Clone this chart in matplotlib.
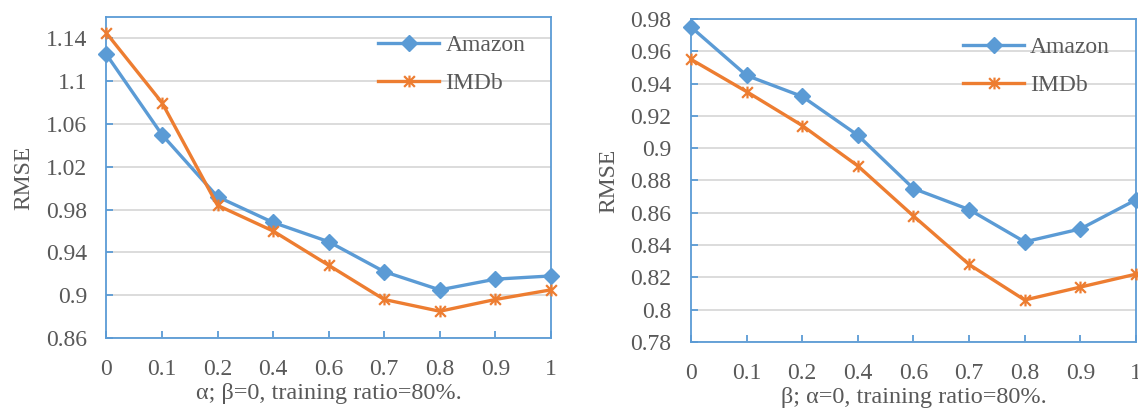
import matplotlib
matplotlib.use("Agg")
import matplotlib.pyplot as plt
from matplotlib.path import Path

plt.rcParams["font.family"] = ["Liberation Serif", "DejaVu Serif"]

# data
x_labels = ["0", "0.1", "0.2", "0.4", "0.6", "0.7", "0.8", "0.9", "1"]

alpha_amazon = [1.125, 1.05, 0.992, 0.968, 0.95, 0.922, 0.905, 0.915, 0.918]
alpha_imdb = [1.145, 1.08, 0.984, 0.96, 0.928, 0.896, 0.885, 0.896, 0.905]

beta_amazon = [0.975, 0.945, 0.932, 0.908, 0.875, 0.862, 0.842, 0.85, 0.868]
beta_imdb = [0.955, 0.935, 0.914, 0.889, 0.858, 0.828, 0.806, 0.814, 0.822]

BLUE = "#5B9BD5"
ORANGE = "#ED7D31"
GRAY = "#595959"
FS = 17

# excel-style star marker: an X with a vertical bar through it
star = Path(
    [(-1, -1), (1, 1), (-1, 1), (1, -1), (0, -1.1), (0, 1.1)],
    [Path.MOVETO, Path.LINETO, Path.MOVETO, Path.LINETO, Path.MOVETO, Path.LINETO],
)


def draw_panel(ax, amazon, imdb, ylim, yticks, xlabel):
    xs = range(len(x_labels))
    ax.plot(xs, amazon, color=BLUE, lw=2.4, marker="D", ms=8,
            label="Amazon", clip_on=False, zorder=3)
    ax.plot(xs, imdb, color=ORANGE, lw=2.4, marker=star, ms=8.5, mew=1.6,
            label="IMDb", clip_on=False, zorder=4)

    ax.set_xlim(0, len(x_labels) - 1)
    ax.set_ylim(*ylim)
    ax.set_xticks(list(xs))
    ax.set_xticklabels(x_labels)
    ax.set_yticks(yticks)
    ax.set_yticklabels(["%g" % v for v in yticks])

    ax.grid(axis="y", color="#D9D9D9", lw=1.3)
    ax.set_axisbelow(True)
    for s in ax.spines.values():
        s.set_color(BLUE)
        s.set_linewidth(1.3)

    ax.tick_params(axis="both", direction="in", length=5, width=1.3, color=BLUE,
                   labelsize=FS, labelcolor=GRAY)
    ax.tick_params(axis="x", pad=15)
    ax.tick_params(axis="y", pad=14)

    ax.set_xlabel(xlabel, fontsize=17.5, color=GRAY, labelpad=2)
    ax.set_ylabel("RMSE", fontsize=FS, color=GRAY, labelpad=8)

    leg = ax.legend(loc="upper left", bbox_to_anchor=(0.574, 0.997), frameon=False,
                    fontsize=FS, handlelength=2.6, handletextpad=0.25,
                    labelspacing=0.7, borderaxespad=0.3)
    for t in leg.get_texts():
        t.set_color(GRAY)


fig = plt.figure(figsize=(11.38, 4.11), dpi=100)
ax1 = fig.add_axes([0.0935, 0.1776, 0.3906, 0.781])
ax2 = fig.add_axes([0.6072, 0.1679, 0.391, 0.786])

draw_panel(ax1, alpha_amazon, alpha_imdb, (0.86, 1.16),
           [0.86, 0.90, 0.94, 0.98, 1.02, 1.06, 1.10, 1.14],
           "α; β=0, training ratio=80%.")
draw_panel(ax2, beta_amazon, beta_imdb, (0.78, 0.98),
           [0.78, 0.80, 0.82, 0.84, 0.86, 0.88, 0.90, 0.92, 0.94, 0.96, 0.98],
           "β; α=0, training ratio=80%.")

fig.savefig("out.png", dpi=100)
